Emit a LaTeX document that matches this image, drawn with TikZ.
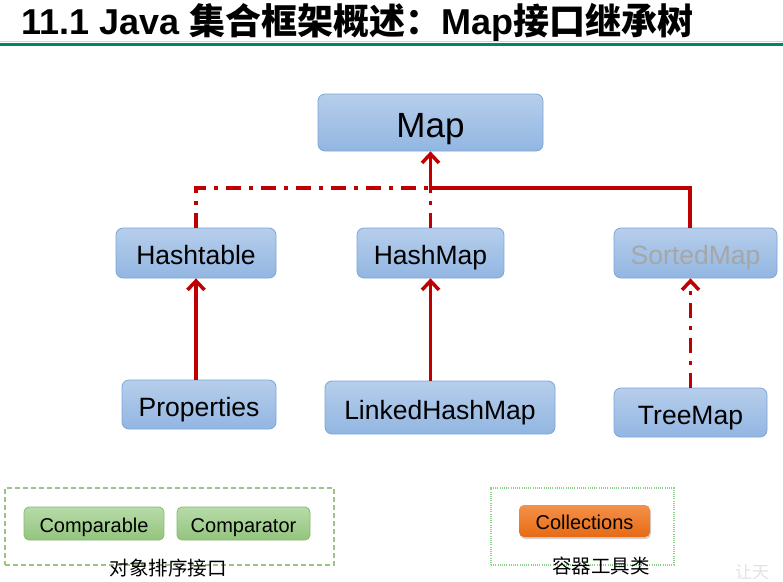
\documentclass[tikz,border=0pt]{standalone}
\usepackage{fontspec}
\setmainfont{Liberation Sans}
\newfontfamily\cjk{Noto Sans CJK SC}
\newfontfamily\cjkb{Noto Sans CJK SC Bold}
\usetikzlibrary{arrows.meta,shadows}
\definecolor{redl}{HTML}{C00000}
\definecolor{bluetop}{HTML}{B6CEEB}
\definecolor{bluebot}{HTML}{92B6E2}
\definecolor{blueedge}{HTML}{7CA6D8}
\definecolor{greentop}{HTML}{B7DBA9}
\definecolor{greenbot}{HTML}{93C47D}
\definecolor{greenedge}{HTML}{86BA6E}
\definecolor{orangetop}{HTML}{F4914A}
\definecolor{orangebot}{HTML}{E76A14}
\definecolor{teal}{HTML}{00856B}
\tikzset{
  bluebox/.style={draw=blueedge, line width=0.8pt, rounded corners=7pt, top color=bluetop, bottom color=bluebot, inner sep=0pt, text height=23pt, text depth=0pt, font=\fontsize{26.5}{30}\selectfont},
  greenbox/.style={draw=greenedge, line width=0.8pt, rounded corners=5pt, top color=greentop, bottom color=greenbot, inner sep=0pt, minimum height=33pt, text height=17pt, text depth=0pt, font=\fontsize{20}{23}\selectfont},
  orangebox/.style={draw=none, rounded corners=5pt, top color=orangetop, bottom color=orangebot, inner sep=0pt, minimum height=32pt, text height=17pt, text depth=0pt, font=\fontsize{20}{23}\selectfont, drop shadow={shadow xshift=1pt, shadow yshift=-2pt, opacity=0.35}},
  redsolid/.style={draw=redl, line width=3.5pt},
  reddash/.style={draw=redl, line width=3.5pt, dash pattern=on 15pt off 8pt on 4pt off 8pt},
  tip/.style={-{Straight Barb[length=9pt,width=17pt,line width=3.5pt]}},
  cjklabel/.style={font=\cjk\fontsize{19.5}{22}\selectfont},
}
\begin{document}
\begin{tikzpicture}[x=1pt,y=-1pt]
\useasboundingbox[fill=white] (0,0) rectangle (783,581);
% title
\node[anchor=base west, inner sep=0pt, font=\fontsize{36}{40}\selectfont] (title) at (21,34)
  {\bfseries 11.1 Java {\cjkb 集合框架概述：}Map{\cjkb 接口继承树}};
\draw[gray!35, line width=0.8pt] (0,41.5) -- (783,41.5);
\draw[teal, line width=3pt] (0,44.5) -- (783,44.5);
% nodes
\node[bluebox, minimum width=225pt, minimum height=57pt, text height=30pt, font=\fontsize{35}{38}\selectfont] (Map) at (430.5,122.5) {Map};
\node[bluebox, minimum width=160pt, minimum height=50pt] (Hashtable) at (196,253) {Hashtable};
\node[bluebox, minimum width=147pt, minimum height=50pt] (HashMap) at (430.5,253) {HashMap};
\node[bluebox, minimum width=163pt, minimum height=50pt, text=gray!70] (SortedMap) at (695.5,253) {SortedMap};
\node[bluebox, minimum width=154pt, minimum height=49pt] (Properties) at (199,404.5) {Properties};
\node[bluebox, minimum width=230pt, minimum height=53pt] (LinkedHashMap) at (440,407.5) {LinkedHashMap};
\node[bluebox, minimum width=153pt, minimum height=49pt] (TreeMap) at (690.5,412.5) {TreeMap};
% connectors
\coordinate (jn) at (430.5,188);
\coordinate (sm) at (690,228);
\draw[reddash] (Hashtable.north) |- (jn);
\draw[reddash] (HashMap.north) -- (jn);
\draw[redsolid, tip] (sm) |- (jn) -- (Map.south);
\draw[redsolid, tip] (Properties.north -| Hashtable.south) -- (Hashtable.south);
\draw[redsolid, tip] (LinkedHashMap.north -| HashMap.south) -- (HashMap.south);
\draw[reddash, tip] (TreeMap.north) -- (TreeMap.north |- SortedMap.south);
% bottom groups
\node[draw=greenedge!85, line width=1.2pt, dash pattern=on 5pt off 3pt, minimum width=329pt, minimum height=77pt, inner sep=0pt] (frameA) at (169.5,526.5) {};
\node[greenbox, minimum width=140pt] (Comparable) at (94,523.5) {Comparable};
\node[greenbox, minimum width=133pt] (Comparator) at (243.5,523.5) {Comparator};
\node[cjklabel] (labelA) at (168,568) {对象排序接口};
\node[draw=green!60!black!45, line width=1.2pt, dash pattern=on 1pt off 1.2pt, minimum width=183pt, minimum height=77pt, inner sep=0pt] (frameB) at (582.5,526.5) {};
\node[orangebox, minimum width=131pt] (Collections) at (584.5,521) {Collections};
\node[cjklabel] (labelB) at (601,566) {容器工具类};
% watermark
\node[anchor=west, text=gray!22, font=\cjk\fontsize{17}{20}\selectfont, inner sep=0pt] (wm) at (735,572) {让天};
\end{tikzpicture}
\end{document}
